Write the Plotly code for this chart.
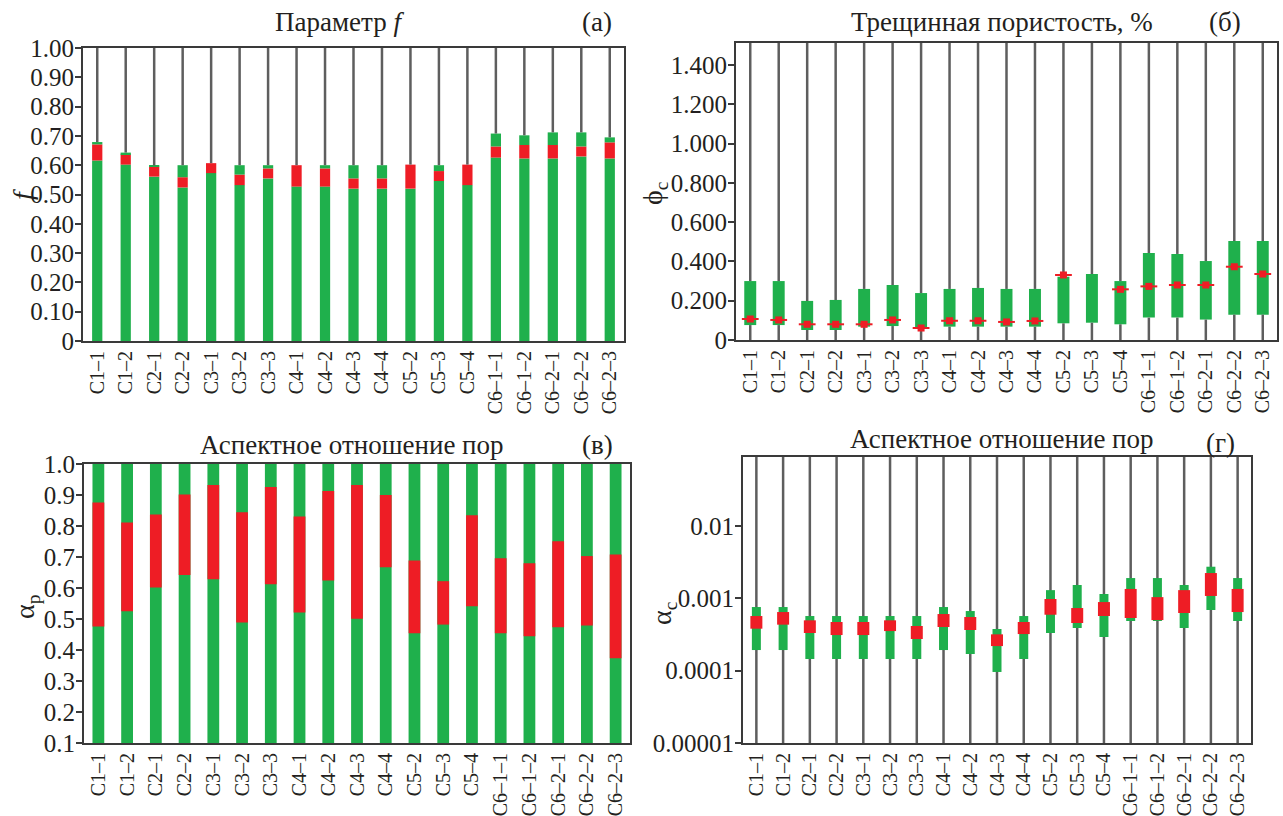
import plotly.graph_objects as go

W, H = 1283, 816

categories = ["С1–1", "С1–2", "С2–1", "С2–2", "С3–1", "С3–2", "С3–3", "С4–1", "С4–2",
              "С4–3", "С4–4", "С5–2", "С5–3", "С5–4", "С6–1–1", "С6–1–2", "С6–2–1",
              "С6–2–2", "С6–2–3"]

# (a) parameter f: lower bound, upper of red range, maximum
f_low = [0.616, 0.602, 0.561, 0.524, 0.573, 0.532, 0.555, 0.527, 0.527, 0.520, 0.520,
         0.520, 0.546, 0.532, 0.626, 0.623, 0.623, 0.630, 0.623]
f_red_top = [0.671, 0.637, 0.595, 0.559, 0.607, 0.568, 0.589, 0.600, 0.589, 0.555, 0.555,
             0.602, 0.580, 0.602, 0.664, 0.669, 0.669, 0.664, 0.678]
f_max = [0.679, 0.643, 0.599, 0.600, 0.607, 0.600, 0.600, 0.600, 0.600, 0.600, 0.600,
         0.602, 0.600, 0.602, 0.708, 0.702, 0.712, 0.712, 0.695]

# (б) crack porosity: min, max, mean
phi_min = [0.076, 0.076, 0.051, 0.051, 0.068, 0.071, 0.059, 0.068, 0.068, 0.068, 0.068,
           0.085, 0.088, 0.080, 0.114, 0.114, 0.104, 0.129, 0.129]
phi_max = [0.300, 0.300, 0.199, 0.204, 0.260, 0.280, 0.239, 0.260, 0.265, 0.260, 0.260,
           0.322, 0.336, 0.300, 0.443, 0.438, 0.402, 0.504, 0.504]
phi_mean = [0.107, 0.102, 0.080, 0.080, 0.080, 0.102, 0.061, 0.098, 0.098, 0.092, 0.097,
            0.331, None, 0.258, 0.273, 0.280, 0.280, 0.373, 0.336]

# (в) pore aspect ratio: red range
ap_low = [0.476, 0.525, 0.602, 0.642, 0.628, 0.489, 0.612, 0.521, 0.624, 0.501, 0.667,
          0.454, 0.482, 0.541, 0.454, 0.444, 0.473, 0.479, 0.373]
ap_high = [0.876, 0.811, 0.837, 0.902, 0.932, 0.844, 0.926, 0.831, 0.913, 0.932, 0.900,
           0.689, 0.622, 0.835, 0.696, 0.680, 0.751, 0.703, 0.708]
ap_min, ap_max = 0.1, 1.0

# (г) crack aspect ratio: green range and red range
ac_min = [1.93e-4, 1.93e-4, 1.45e-4, 1.45e-4, 1.45e-4, 1.45e-4, 1.45e-4, 1.93e-4, 1.70e-4,
          9.6e-5, 1.45e-4, 3.32e-4, 3.89e-4, 2.92e-4, 4.86e-4, 4.86e-4, 3.89e-4, 6.90e-4, 4.86e-4]
ac_max = [7.59e-4, 7.59e-4, 5.70e-4, 5.70e-4, 5.70e-4, 5.70e-4, 5.70e-4, 7.59e-4, 6.68e-4,
          3.77e-4, 5.70e-4, 1.30e-3, 1.53e-3, 1.15e-3, 1.91e-3, 1.91e-3, 1.53e-3, 2.74e-3, 1.91e-3]
ac_red_low = [3.81e-4, 4.33e-4, 3.32e-4, 3.11e-4, 3.11e-4, 3.53e-4, 2.74e-4, 4.02e-4, 3.65e-4,
              2.19e-4, 3.21e-4, 5.94e-4, 4.56e-4, 5.70e-4, 5.35e-4, 5.01e-4, 6.27e-4, 1.08e-3, 6.47e-4]
ac_red_high = [5.70e-4, 6.47e-4, 4.97e-4, 4.71e-4, 4.71e-4, 4.97e-4, 4.15e-4, 6.07e-4, 5.52e-4,
               3.18e-4, 4.71e-4, 9.80e-4, 7.35e-4, 8.89e-4, 1.35e-3, 1.04e-3, 1.30e-3, 2.24e-3, 1.35e-3]

f_ticks = [0, 0.1, 0.2, 0.3, 0.4, 0.5, 0.6, 0.7, 0.8, 0.9, 1.0]
f_ticktext = ["0", "0.10", "0.20", "0.30", "0.40", "0.50", "0.60", "0.70", "0.80", "0.90", "1.00"]
phi_ticks = [0, 0.2, 0.4, 0.6, 0.8, 1.0, 1.2, 1.4]
phi_ticktext = ["0", "0.200", "0.400", "0.600", "0.800", "1.000", "1.200", "1.400"]
ap_ticks = [0.1, 0.2, 0.3, 0.4, 0.5, 0.6, 0.7, 0.8, 0.9, 1.0]
ap_ticktext = ["0.1", "0.2", "0.3", "0.4", "0.5", "0.6", "0.7", "0.8", "0.9", "1.0"]
ac_ticks = [1e-5, 1e-4, 1e-3, 1e-2]
ac_ticktext = ["0.00001", "0.0001", "0.001", "0.01"]

GREEN = "#1FB04C"
RED = "#EE1D25"
GREY = "#5E5E5E"
FRAME = "#3A3A3A"
TXT = "#231F20"
FONT = "'Liberation Serif', 'Times New Roman', 'DejaVu Serif', serif"

F_TOP, PHI_TOP, AC_TOP = 1.0, 1.512, 10 ** -1.045


def seg(xs, y0s, y1s):
    X, Y = [], []
    for x, a, b in zip(xs, y0s, y1s):
        if a is None or b is None:
            continue
        X += [x, x, None]
        Y += [a, b, None]
    return X, Y


fig = go.Figure()

# ---------- (a) ----------
fig.add_trace(go.Bar(x=categories, y=f_low, base=[0] * len(f_low), width=0.36,
                     marker=dict(color=GREEN, line_width=0), xaxis="x", yaxis="y"))
fig.add_trace(go.Bar(x=categories, y=[r - l for r, l in zip(f_red_top, f_low)], base=f_low,
                     width=0.36, marker=dict(color=RED, line_width=0), xaxis="x", yaxis="y"))
fig.add_trace(go.Bar(x=categories, y=[m - r for m, r in zip(f_max, f_red_top)], base=f_red_top,
                     width=0.36, marker=dict(color=GREEN, line_width=0), xaxis="x", yaxis="y"))
gx, gy = seg(categories, f_max, [F_TOP] * len(categories))
fig.add_trace(go.Scatter(x=gx, y=gy, mode="lines", line=dict(color=GREY, width=2.5),
                         xaxis="x", yaxis="y"))

# ---------- (б) ----------
fig.add_trace(go.Bar(x=categories, y=[b - a for a, b in zip(phi_min, phi_max)], base=phi_min,
                     width=0.42, marker=dict(color=GREEN, line_width=0), xaxis="x2", yaxis="y2"))
gx, gy = seg(categories, [0] * len(categories), phi_min)
gx2, gy2 = seg(categories, phi_max, [PHI_TOP] * len(categories))
fig.add_trace(go.Scatter(x=gx + gx2, y=gy + gy2, mode="lines", line=dict(color=GREY, width=2.5),
                         xaxis="x2", yaxis="y2"))
fig.add_trace(go.Scatter(x=categories, y=phi_mean, mode="markers",
                         marker=dict(symbol="line-ew", size=12, line=dict(color=RED, width=2)),
                         xaxis="x2", yaxis="y2"))
fig.add_trace(go.Scatter(x=categories, y=phi_mean, mode="markers",
                         marker=dict(symbol="square", size=7, color=RED, line_width=0),
                         xaxis="x2", yaxis="y2"))

# ---------- (в) ----------
fig.add_trace(go.Bar(x=categories, y=[ap_max - ap_min] * len(categories), base=[ap_min] * len(categories),
                     width=0.41, marker=dict(color=GREEN, line_width=0), xaxis="x3", yaxis="y3"))
fig.add_trace(go.Bar(x=categories, y=[h - l for l, h in zip(ap_low, ap_high)], base=ap_low,
                     width=0.41, marker=dict(color=RED, line_width=0), xaxis="x3", yaxis="y3"))

# ---------- (г) ----------
gx, gy = seg(categories, [1e-5] * len(categories), [AC_TOP] * len(categories))
fig.add_trace(go.Scatter(x=gx, y=gy, mode="lines", line=dict(color=GREY, width=2.5),
                         xaxis="x4", yaxis="y4"))
gx, gy = seg(categories, ac_min, ac_max)
fig.add_trace(go.Scatter(x=gx, y=gy, mode="lines", line=dict(color=GREEN, width=9),
                         xaxis="x4", yaxis="y4"))
gx, gy = seg(categories, ac_red_low, ac_red_high)
fig.add_trace(go.Scatter(x=gx, y=gy, mode="lines", line=dict(color=RED, width=12),
                         xaxis="x4", yaxis="y4"))


def xd(a, b):
    return [a / W, b / W]


def yd(top, bottom):
    return [1 - bottom / H, 1 - top / H]


xcommon = dict(type="category", categoryorder="array", categoryarray=categories,
               range=[-0.5, len(categories) - 0.5], tickangle=-90, showline=True, mirror=True,
               linecolor=FRAME, linewidth=2, ticks="", showgrid=False, zeroline=False,
               tickfont=dict(family=FONT, size=20, color=TXT), automargin=False, fixedrange=True)
ycommon = dict(showline=True, mirror=True, linecolor=FRAME, linewidth=2, ticks="outside",
               ticklen=6, tickwidth=1.5, tickcolor=FRAME, showgrid=False, zeroline=False,
               ticklabelstandoff=-4,
               tickfont=dict(family=FONT, size=25, color=TXT), automargin=False, fixedrange=True)

fig.update_layout(
    width=W, height=H, margin=dict(l=0, r=0, t=0, b=0), template="none",
    font=dict(family=FONT, color=TXT),
    paper_bgcolor="white", plot_bgcolor="white", barmode="overlay", showlegend=False,
    xaxis=dict(xcommon, domain=xd(83, 624), anchor="y"),
    yaxis=dict(ycommon, domain=yd(48, 341), anchor="x", range=[0, F_TOP],
               tickmode="array", tickvals=f_ticks, ticktext=f_ticktext),
    xaxis2=dict(xcommon, domain=xd(736, 1277), anchor="y2"),
    yaxis2=dict(ycommon, domain=yd(43, 340), anchor="x2", range=[0, PHI_TOP],
                tickmode="array", tickvals=phi_ticks, ticktext=phi_ticktext),
    xaxis3=dict(xcommon, domain=xd(84, 630), anchor="y3"),
    yaxis3=dict(ycommon, domain=yd(464, 743), anchor="x3", range=[ap_min, ap_max],
                tickmode="array", tickvals=ap_ticks, ticktext=ap_ticktext),
    xaxis4=dict(xcommon, domain=xd(743, 1251), anchor="y4"),
    yaxis4=dict(ycommon, domain=yd(457, 743), anchor="x4", type="log", range=[-5, -1.045],
                tickmode="array", tickvals=ac_ticks, ticktext=ac_ticktext),
)


def ann(text, px, py, size=27, angle=0):
    fig.add_annotation(text=text, x=px / W, y=1 - py / H, xref="paper", yref="paper",
                       showarrow=False, xanchor="center", yanchor="middle", textangle=angle,
                       font=dict(family=FONT, size=size, color=TXT))


ann("Параметр <i>f</i>", 340, 22)
ann("(a)", 597, 22)
ann("Трещинная пористость, %", 1002, 22)
ann("(б)", 1225, 22)
ann("Аспектное отношение пор", 352, 445)
ann("(в)", 597, 445)
ann("Аспектное отношение пор", 1002, 439)
ann("(г)", 1220, 443)
ann("<i>f</i>", 22, 195, size=28, angle=-90)
ann("ϕ<sub>c</sub>", 654, 193, size=28, angle=-90)
ann("α<sub>p</sub>", 26, 607, size=28, angle=-90)
ann("α<sub>c</sub>", 663, 613, size=28, angle=-90)

fig.write_html("out.html")
